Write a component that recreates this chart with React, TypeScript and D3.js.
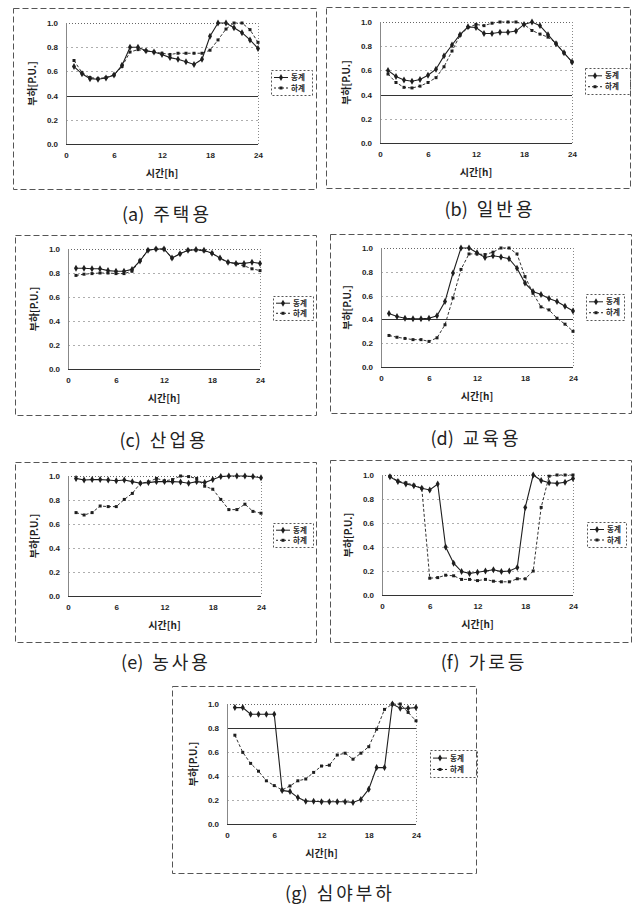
import React, { useRef, useEffect } from 'react';
import * as d3 from 'd3';

// hour of day, 1..24
const hours = [1, 2, 3, 4, 5, 6, 7, 8, 9, 10, 11, 12, 13, 14, 15, 16, 17, 18, 19, 20, 21, 22, 23, 24];
const xTicks = [0, 6, 12, 18, 24];
const yTicks = [0, 0.2, 0.4, 0.6, 0.8, 1.0];
const seriesNames = ['동계', '하계'];
const captions = ['(a) 주택용', '(b) 일반용', '(c) 산업용', '(d) 교육용', '(e) 농사용', '(f) 가로등', '(g) 심야부하'];

const winterA = [0.64, 0.58, 0.54, 0.535, 0.545, 0.57, 0.65, 0.8, 0.8, 0.77, 0.76, 0.74, 0.714, 0.7, 0.68, 0.657, 0.7, 0.89, 1.0, 1.0, 0.96, 0.92, 0.86, 0.79];
const summerA = [0.69, 0.59, 0.55, 0.54, 0.55, 0.57, 0.64, 0.76, 0.78, 0.77, 0.76, 0.75, 0.74, 0.75, 0.75, 0.75, 0.75, 0.775, 0.86, 0.95, 1.0, 1.0, 0.945, 0.84];

const winterB = [0.6, 0.55, 0.52, 0.51, 0.525, 0.56, 0.61, 0.72, 0.81, 0.895, 0.96, 0.955, 0.905, 0.905, 0.915, 0.915, 0.925, 0.98, 1.0, 0.97, 0.895, 0.82, 0.745, 0.67];
const summerB = [0.57, 0.5, 0.46, 0.455, 0.47, 0.5, 0.54, 0.63, 0.76, 0.89, 0.955, 0.98, 0.97, 0.99, 1.0, 1.0, 1.0, 0.98, 0.93, 0.9, 0.875, 0.825, 0.745, 0.67];

const winterC = [0.84, 0.84, 0.835, 0.835, 0.82, 0.815, 0.815, 0.83, 0.9, 0.99, 1.0, 1.0, 0.925, 0.96, 0.99, 0.995, 0.99, 0.965, 0.925, 0.89, 0.88, 0.88, 0.89, 0.88];
const summerC = [0.78, 0.79, 0.795, 0.8, 0.8, 0.795, 0.795, 0.815, 0.905, 0.99, 1.0, 1.0, 0.925, 0.96, 0.99, 0.99, 0.985, 0.965, 0.92, 0.89, 0.877, 0.86, 0.835, 0.82];

const winterD = [0.45, 0.425, 0.41, 0.405, 0.405, 0.41, 0.43, 0.55, 0.79, 1.0, 1.0, 0.96, 0.92, 0.935, 0.925, 0.91, 0.83, 0.705, 0.635, 0.61, 0.575, 0.55, 0.51, 0.47];
const summerD = [0.265, 0.25, 0.24, 0.23, 0.23, 0.215, 0.245, 0.355, 0.58, 0.82, 0.95, 0.95, 0.945, 0.965, 1.0, 1.0, 0.95, 0.76, 0.62, 0.505, 0.48, 0.41, 0.36, 0.3];

const winterE = [0.98, 0.967, 0.97, 0.97, 0.967, 0.96, 0.967, 0.953, 0.94, 0.945, 0.953, 0.953, 0.953, 0.95, 0.94, 0.953, 0.945, 0.97, 0.995, 1.0, 1.0, 1.0, 0.995, 0.985];
const summerE = [0.695, 0.675, 0.695, 0.75, 0.745, 0.745, 0.805, 0.855, 0.94, 0.95, 0.98, 0.96, 0.97, 1.0, 0.995, 0.98, 0.915, 0.89, 0.805, 0.72, 0.72, 0.765, 0.705, 0.69];

const winterF = [0.985, 0.945, 0.925, 0.91, 0.89, 0.875, 0.925, 0.4, 0.265, 0.195, 0.18, 0.19, 0.2, 0.21, 0.195, 0.2, 0.23, 0.73, 1.0, 0.955, 0.935, 0.93, 0.94, 0.97];
const summerF = [0.99, 0.95, 0.935, 0.915, 0.89, 0.14, 0.145, 0.165, 0.16, 0.13, 0.13, 0.12, 0.13, 0.115, 0.11, 0.11, 0.135, 0.135, 0.2, 0.73, 0.99, 1.0, 1.0, 1.0];

const winterG = [0.97, 0.97, 0.915, 0.915, 0.915, 0.915, 0.28, 0.27, 0.22, 0.19, 0.19, 0.185, 0.185, 0.185, 0.185, 0.18, 0.205, 0.29, 0.47, 0.47, 1.0, 0.965, 0.965, 0.97];
const summerG = [0.74, 0.597, 0.505, 0.44, 0.36, 0.32, 0.283, 0.317, 0.36, 0.375, 0.43, 0.483, 0.49, 0.575, 0.59, 0.54, 0.59, 0.644, 0.79, 0.955, 1.0, 1.0, 0.93, 0.86];

interface Panel {
  caption: string;
  winter: number[];
  summer: number[];
  box: [number, number, number, number]; // x1, y1, x2, y2
  plot: [number, number, number, number]; // left, right, top, bottom
  legend: [number, number, number, number];
  capX: number;
  capY: number;
  darkGrid: number[];
}

const panels: Panel[] = [
  { caption: captions[0], winter: winterA, summer: summerA, box: [13, 8, 316, 189], plot: [66, 258, 23, 144], legend: [271, 70, 312, 95], capX: 167, capY: 221, darkGrid: [0.4] },
  { caption: captions[1], winter: winterB, summer: summerB, box: [326, 7, 630, 188], plot: [380, 572, 22, 143], legend: [585, 68, 630, 94], capX: 490, capY: 216, darkGrid: [0.4] },
  { caption: captions[2], winter: winterC, summer: summerC, box: [15, 235, 316, 415], plot: [68, 260, 249, 369], legend: [273, 296, 313, 320], capX: 164, capY: 447, darkGrid: [] },
  { caption: captions[3], winter: winterD, summer: summerD, box: [330, 234, 631, 413], plot: [381, 573, 248, 367], legend: [586, 294, 624, 320], capX: 476, capY: 445, darkGrid: [0.4] },
  { caption: captions[4], winter: winterE, summer: summerE, box: [15, 462, 316, 642], plot: [68, 261, 476, 596], legend: [273, 523, 313, 547], capX: 166, capY: 669, darkGrid: [] },
  { caption: captions[5], winter: winterF, summer: summerF, box: [330, 460, 631, 642], plot: [382, 573, 475, 595], legend: [587, 522, 626, 547], capX: 484, capY: 669, darkGrid: [] },
  { caption: captions[6], winter: winterG, summer: summerG, box: [172, 686, 476, 873], plot: [227, 416, 704, 824], legend: [430, 750, 477, 777], capX: 340, capY: 900, darkGrid: [0.8] },
];

const ink = '#1e1e1e';
const numFont = '"Liberation Sans", Arial, sans-serif';
const krFont = '"Noto Sans CJK KR", sans-serif';

const App: React.FC = () => {
  const svgRef = useRef<SVGSVGElement>(null);

  useEffect(() => {
    if (!svgRef.current) return;
    const svg = d3.select(svgRef.current);
    svg.selectAll('*').remove();

    const winterSym = d3.symbol().type(d3.symbolDiamond).size(14);
    const summerSym = d3.symbol().type(d3.symbolSquare).size(9);

    panels.forEach(p => {
      const g = svg.append('g');
      const [left, right, top, bottom] = p.plot;

      // dashed outer border of the panel
      g.append('rect')
        .attr('x', p.box[0] + 0.5)
        .attr('y', p.box[1] + 0.5)
        .attr('width', p.box[2] - p.box[0])
        .attr('height', p.box[3] - p.box[1])
        .attr('fill', 'none')
        .attr('stroke', '#555')
        .attr('stroke-width', 1)
        .attr('stroke-dasharray', '6,3');

      const x = d3.scaleLinear().domain([0, 24]).range([left, right]);
      const y = d3.scaleLinear().domain([0, 1]).range([bottom, top]);

      // gridlines
      yTicks.filter(t => t > 0 && t < 1).forEach(t => {
        const dark = p.darkGrid.includes(t);
        g.append('line')
          .attr('x1', left).attr('x2', right)
          .attr('y1', Math.round(y(t)) + 0.5).attr('y2', Math.round(y(t)) + 0.5)
          .attr('stroke', dark ? '#333' : '#999')
          .attr('stroke-width', dark ? 1 : 0.8)
          .attr('stroke-dasharray', dark ? null : '2,3');
      });

      // plot frame: dotted top and right, solid left and bottom
      g.append('line')
        .attr('x1', left).attr('x2', right)
        .attr('y1', top + 0.5).attr('y2', top + 0.5)
        .attr('stroke', '#666').attr('stroke-dasharray', '1,2');
      g.append('line')
        .attr('x1', right + 0.5).attr('x2', right + 0.5)
        .attr('y1', top).attr('y2', bottom)
        .attr('stroke', '#888').attr('stroke-dasharray', '1,2');
      g.append('line')
        .attr('x1', left + 0.5).attr('x2', left + 0.5)
        .attr('y1', top).attr('y2', bottom)
        .attr('stroke', '#888');
      g.append('line')
        .attr('x1', left).attr('x2', right)
        .attr('y1', bottom + 0.5).attr('y2', bottom + 0.5)
        .attr('stroke', '#333').attr('stroke-width', 1.2);

      // axes
      const yAxis = g.append('g')
        .attr('transform', `translate(${left},0)`)
        .call(d3.axisLeft(y).tickValues(yTicks).tickFormat(d3.format('.1f')).tickSize(0).tickPadding(8));
      yAxis.select('.domain').remove();
      yAxis.selectAll('text')
        .attr('font-family', numFont)
        .attr('font-size', 8)
        .attr('font-weight', 'bold')
        .attr('fill', ink);

      const xAxis = g.append('g')
        .attr('transform', `translate(0,${bottom})`)
        .call(d3.axisBottom(x).tickValues(xTicks).tickFormat(d3.format('d')).tickSize(0).tickPadding(8));
      xAxis.select('.domain').remove();
      xAxis.selectAll('text')
        .attr('font-family', numFont)
        .attr('font-size', 8)
        .attr('font-weight', 'bold')
        .attr('fill', ink);

      // axis titles
      g.append('text')
        .attr('x', (left + right) / 2)
        .attr('y', bottom + 33)
        .attr('text-anchor', 'middle')
        .attr('font-family', krFont)
        .attr('font-size', 10)
        .attr('font-weight', 'bold')
        .attr('fill', ink)
        .text('시간[h]');

      g.append('text')
        .attr('transform', `translate(${left - 30},${(top + bottom) / 2}) rotate(-90)`)
        .attr('text-anchor', 'middle')
        .attr('font-family', krFont)
        .attr('font-size', 10)
        .attr('font-weight', 'bold')
        .attr('fill', ink)
        .text('부하[P.U.]');

      // series
      const line = d3.line<number>()
        .x((d, i) => x(hours[i]))
        .y(d => y(d));

      g.append('path')
        .datum(p.summer)
        .attr('d', line)
        .attr('fill', 'none')
        .attr('stroke', '#333')
        .attr('stroke-width', 1)
        .attr('stroke-dasharray', '3,2');

      g.append('path')
        .datum(p.winter)
        .attr('d', line)
        .attr('fill', 'none')
        .attr('stroke', ink)
        .attr('stroke-width', 1.1);

      g.selectAll('.m-summer')
        .data(p.summer)
        .enter()
        .append('path')
        .attr('class', 'm-summer')
        .attr('d', summerSym)
        .attr('transform', (d, i) => `translate(${x(hours[i])},${y(d)})`)
        .attr('fill', ink);

      g.selectAll('.m-winter')
        .data(p.winter)
        .enter()
        .append('path')
        .attr('class', 'm-winter')
        .attr('d', winterSym)
        .attr('transform', (d, i) => `translate(${x(hours[i])},${y(d)})`)
        .attr('fill', ink);

      // legend
      const [lx1, ly1, lx2, ly2] = p.legend;
      g.append('rect')
        .attr('x', lx1 + 0.5)
        .attr('y', ly1 + 0.5)
        .attr('width', lx2 - lx1)
        .attr('height', ly2 - ly1)
        .attr('fill', 'none')
        .attr('stroke', '#555')
        .attr('stroke-dasharray', '2,2');

      seriesNames.forEach((name, i) => {
        const ly = ly1 + (ly2 - ly1) * (i === 0 ? 0.3 : 0.72);
        g.append('line')
          .attr('x1', lx1 + 3).attr('x2', lx1 + 17)
          .attr('y1', ly).attr('y2', ly)
          .attr('stroke', ink)
          .attr('stroke-dasharray', i === 0 ? null : '2,2');
        g.append('path')
          .attr('d', i === 0 ? winterSym : summerSym)
          .attr('transform', `translate(${lx1 + 10},${ly})`)
          .attr('fill', ink);
        g.append('text')
          .attr('x', lx1 + 20)
          .attr('y', ly)
          .attr('dy', '0.35em')
          .attr('font-family', krFont)
          .attr('font-size', 7.5)
          .attr('font-weight', 'bold')
          .attr('fill', ink)
          .text(name);
      });

      // caption: compact "(a)" label, widely spaced Korean name
      const [label, name] = p.caption.split(' ');
      const cap = g.append('text')
        .attr('x', p.capX)
        .attr('y', p.capY)
        .attr('text-anchor', 'middle')
        .attr('font-family', krFont)
        .attr('font-size', 18)
        .attr('fill', '#222');
      cap.append('tspan').text(label);
      cap.append('tspan').attr('dx', 9).attr('letter-spacing', 3).text(name);
    });
  }, []);

  return (
    <svg
      ref={svgRef}
      width={637}
      height={909}
      style={{ position: 'absolute', left: 0, top: 0, background: '#fff' }}
    />
  );
};

export default App;
